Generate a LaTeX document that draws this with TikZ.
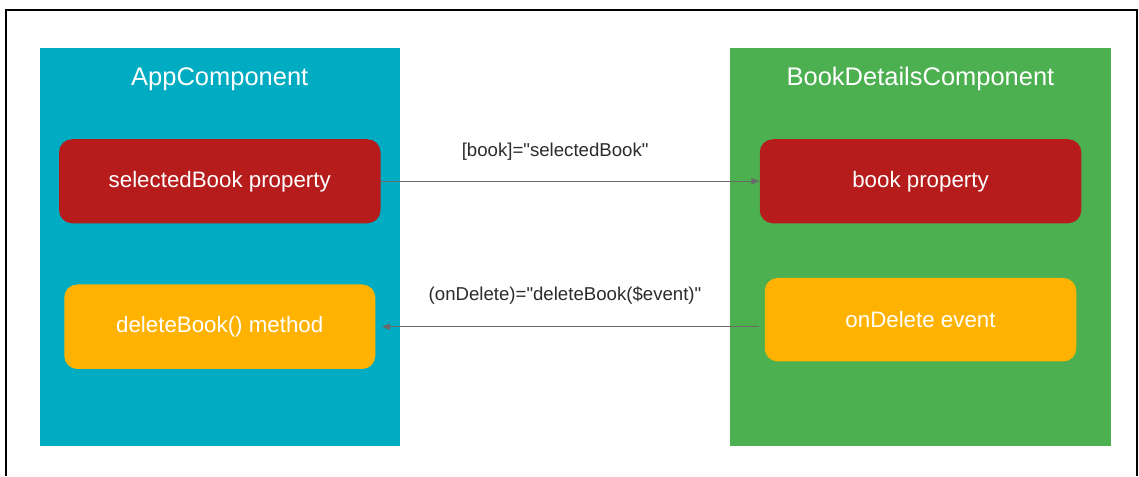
\documentclass[tikz,border=0pt]{standalone}
\usepackage{fontspec}
\setmainfont{Liberation Sans}[Ligatures=TeXOff]
\usetikzlibrary{positioning,arrows.meta}
\definecolor{appcyan}{HTML}{00ACC1}
\definecolor{detailsgreen}{HTML}{4CAF50}
\definecolor{propred}{HTML}{B71C1C}
\definecolor{eventorange}{HTML}{FFB300}
\definecolor{linkgray}{HTML}{6A6A6A}
\definecolor{labelgray}{HTML}{2B2B2B}

\begin{document}
\begin{tikzpicture}[component/.style={rectangle, fill=#1, minimum height=7.95cm, inner sep=0pt}, member/.style={rectangle, rounded corners=0.26cm, fill=#1, text=white, font=\fontsize{12.7}{15}\selectfont, inner sep=0pt}, comptitle/.style={text=white, font=\fontsize{14.5}{17}\selectfont, inner sep=0pt}, binding/.style={draw=linkgray, line width=0.75pt, -{Triangle[length=1.6mm, width=1.3mm]}}, bindlabel/.style={midway, anchor=base, text=labelgray, font=\fontsize{10.6}{13}\selectfont, inner sep=0pt}]

\useasboundingbox (0,0) rectangle (22.78,9.52);

% FRAME

\draw[line width=0.04cm] (0.12,0) -- (0.12,9.32) -- (22.73,9.32) -- (22.73,0);

% COMPONENTS

\node [component=appcyan, minimum width=7.21cm] (app) at (4.395,4.58) {};

\node [component=detailsgreen, minimum width=7.61cm] (details) at (18.41,4.58) {};

\node [comptitle, below=0.76cm of app.north, anchor=base] (app-title) {AppComponent};

\node [comptitle, below=0.76cm of details.north, anchor=base] (details-title) {BookDetailsComponent};

% MEMBERS

\node [member=propred, minimum width=6.43cm, minimum height=1.68cm, below=1.82cm of app.north] (selected-prop) {selectedBook property};

\node [member=eventorange, minimum width=6.22cm, minimum height=1.69cm, below=1.21cm of selected-prop] (delete-method) {deleteBook() method};

\node [member=propred, minimum width=6.43cm, minimum height=1.68cm, below=1.82cm of details.north] (book-prop) {book property};

\node [member=eventorange, minimum width=6.23cm, minimum height=1.67cm, below=1.08cm of book-prop] (delete-event) {onDelete event};

% BINDINGS

\draw [binding] (selected-prop.east) -- node [bindlabel, yshift=0.49cm, xshift=-0.3cm] {[book]="selectedBook"} (book-prop.west);

\draw [binding, shorten <=0.1cm, shorten >=0.13cm] (delete-event.west |- delete-method.east) -- node [bindlabel, yshift=0.52cm, xshift=-0.1cm] {(onDelete)="deleteBook(\$event)"} (delete-method.east);

\end{tikzpicture}
\end{document}
